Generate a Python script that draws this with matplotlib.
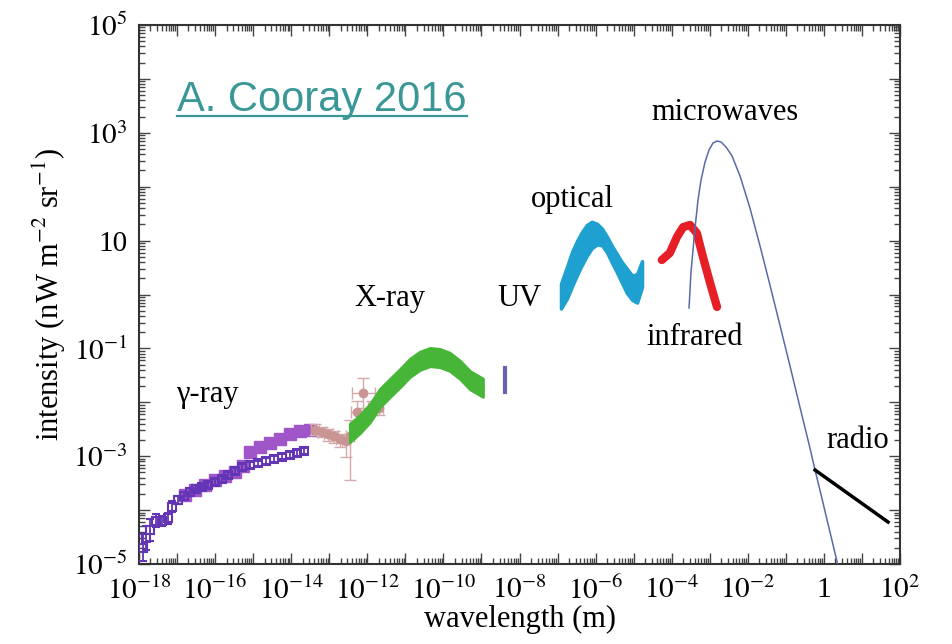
import numpy as np
import matplotlib
matplotlib.use('Agg')
import matplotlib.pyplot as plt
from matplotlib.ticker import FixedLocator, FuncFormatter, LogLocator, NullFormatter
from matplotlib.lines import Line2D

# all values are log10 (wavelength in m, intensity in nW m^-2 sr^-1)
gamma_open_x = [-17.90, -17.82, -17.71, -17.55, -17.40, -17.24, -17.13, -16.98, -16.82, -16.66,
                -16.50, -16.34, -16.19, -16.00, -15.82, -15.66, -15.48, -15.29, -15.08, -14.87,
                -14.66, -14.45, -14.24, -14.03, -13.85, -13.66]
gamma_open_y = [-4.70, -4.52, -4.37, -4.20, -4.20, -4.15, -3.94, -3.81, -3.74, -3.66,
                -3.61, -3.57, -3.53, -3.48, -3.42, -3.35, -3.27, -3.20, -3.16, -3.13,
                -3.09, -3.05, -3.01, -2.98, -2.94, -2.90]
gamma_open_err = [0.25, 0.22, 0.2, 0.12, 0.1, 0.1, 0.1, 0.08, 0.08, 0.07,
                  0.07, 0.06, 0.06, 0.06, 0.06, 0.06, 0.06, 0.06, 0.05, 0.05,
                  0.05, 0.05, 0.05, 0.05, 0.05, 0.05]

gamma_fill_x = [-16.79, -16.53, -16.27, -16.00, -15.74, -15.48, -15.27, -15.08, -14.82,
                -14.56, -14.29, -14.03, -13.77, -13.51]
gamma_fill_y = [-3.72, -3.63, -3.53, -3.44, -3.37, -3.29, -3.18, -2.92, -2.83,
                -2.76, -2.68, -2.59, -2.53, -2.51]

pink_x = [-13.37, -13.19, -13.03, -12.88, -12.72, -12.56, -12.45, -12.27, -12.11, -11.88, -11.69]
pink_y = [-2.51, -2.55, -2.59, -2.63, -2.68, -2.72, -2.63, -2.18, -1.83, -2.09, -2.11]
pink_err_lo = [0.1, 0.1, 0.12, 0.12, 0.15, 0.3, 0.82, 0.25, 0.28, 0.15, 0.12]
pink_err_hi = [0.1, 0.1, 0.1, 0.1, 0.1, 0.12, 0.30, 0.2, 0.28, 0.12, 0.1]
pink_xerr = [0.1, 0.1, 0.1, 0.1, 0.1, 0.1, 0.1, 0.15, 0.3, 0.1, 0.1]

xray_x = [-12.46, -12.19, -11.93, -11.67, -11.40, -11.14, -10.88, -10.62, -10.35, -10.09,
          -9.83, -9.56, -9.30, -8.96]
xray_y = [-2.57, -2.40, -2.20, -1.92, -1.73, -1.55, -1.36, -1.23, -1.16, -1.18,
          -1.25, -1.40, -1.59, -1.73]
xray_halfwidth = 0.17

uv_x = [-8.38, -8.38]
uv_y = [-1.81, -1.36]

opt_x = [-6.91, -6.75, -6.62, -6.49, -6.36, -6.23, -6.10, -5.96, -5.83, -5.70,
         -5.57, -5.44, -5.31, -5.18, -5.04, -4.91, -4.78]
opt_hi = [0.20, 0.52, 0.79, 0.99, 1.16, 1.29, 1.35, 1.31, 1.22, 1.07,
          0.90, 0.75, 0.60, 0.48, 0.35, 0.38, 0.62]
opt_lo = [-0.26, -0.07, 0.15, 0.36, 0.55, 0.72, 0.86, 0.93, 0.91, 0.78,
          0.59, 0.41, 0.22, 0.03, -0.10, -0.15, 0.14]

ir_x = [-4.26, -4.05, -3.86, -3.70, -3.52, -3.34, -3.18, -2.99, -2.81]
ir_y = [0.64, 0.77, 1.07, 1.25, 1.29, 1.14, 0.70, 0.21, -0.23]

cmb_x = [-3.545, -3.519, -3.493, -3.440, -3.388, -3.309, -3.230, -3.124, -3.019, -2.914,
         -2.809, -2.704, -2.573, -2.415, -2.205, -1.942, -1.679, -1.416, -1.154, -0.890,
         -0.628, -0.363, -0.234, -0.097, 0.167, 0.431]
cmb_y = [-0.250, 0.083, 0.417, 0.826, 1.234, 1.753, 2.124, 2.458, 2.681, 2.811,
         2.848, 2.829, 2.737, 2.570, 2.200, 1.600, 0.900, 0.170, -0.575, -1.330,
         -2.095, -2.860, -3.256, -3.650, -4.430, -5.210]

radio_x = [-0.234, 1.685]
radio_y = [-3.256, -4.221]

plt.rcParams['font.family'] = ['Liberation Serif', 'DejaVu Serif']
plt.rcParams['mathtext.fontset'] = 'stix'

fig = plt.figure(figsize=(9.52, 6.44), dpi=100)
ax = fig.add_axes([0.146, 0.1242, 0.7994, 0.837])
ax.set_xscale('log')
ax.set_yscale('log')
ax.set_xlim(1e-18, 1e2)
ax.set_ylim(1e-5, 1e5)


def p(v):
    return 10.0 ** np.asarray(v, dtype=float)


def log_err(ly, lo, hi):
    y = p(ly)
    return [y - p(np.asarray(ly) - np.asarray(lo)), p(np.asarray(ly) + np.asarray(hi)) - y]


# gamma rays
ax.errorbar(p(gamma_open_x), p(gamma_open_y), yerr=log_err(gamma_open_y, gamma_open_err, gamma_open_err),
            fmt='s', ms=5.5, mfc='none', mec='#6236b4', mew=1.5, ecolor='#6236b4', elinewidth=1.3,
            capsize=3, zorder=3)
ax.plot(p(gamma_fill_x), p(gamma_fill_y), 's', ms=9, color='#a056c8', zorder=2)

# pink points
ax.errorbar(p(pink_x), p(pink_y), yerr=log_err(pink_y, pink_err_lo, pink_err_hi),
            xerr=log_err(pink_x, pink_xerr, pink_xerr), fmt='o', ms=6, color='#c99494',
            ecolor='#d4aaaa', elinewidth=1.0, capsize=4, zorder=3)

# x rays
xl = np.asarray(xray_y)
ax.fill_between(p(xray_x), p(xl - xray_halfwidth), p(xl + xray_halfwidth), color='#47b537',
                lw=2, edgecolor='#47b537', zorder=4)

# uv
ax.plot(p(uv_x), p(uv_y), color='#6a62b4', lw=3, zorder=4)

# optical
ax.fill_between(p(opt_x), p(opt_lo), p(opt_hi), color='#1ea0d0', edgecolor='#1ea0d0', lw=2.5, zorder=4)

# infrared
ax.plot(p(ir_x), p(ir_y), color='#e61e26', lw=6, solid_capstyle='round', zorder=4)

# microwaves
ax.plot(p(cmb_x), p(cmb_y), color='#5a6aa8', lw=1.1, zorder=5)

# radio
ax.plot(p(radio_x), p(radio_y), color='black', lw=2.5, zorder=5)

# band labels
fs = 22
ax.text(p(-16.2), p(-1.85), 'γ-ray', fontsize=fs, ha='center', va='center')
ax.text(p(-11.4), p(-0.08), 'X-ray', fontsize=fs, ha='center', va='center')
ax.text(p(-8.0), p(-0.08), 'UV', fontsize=fs, ha='center', va='center')
ax.text(p(-6.6), p(1.77), 'optical', fontsize=fs, ha='center', va='center')
ax.text(p(-2.6), p(3.38), 'microwaves', fontsize=fs, ha='center', va='center')
ax.text(p(-3.40), p(-0.79), 'infrared', fontsize=fs, ha='center', va='center')
ax.text(p(0.88), p(-2.70), 'radio', fontsize=fs, ha='center', va='center')

# ticks
x_major = [10.0 ** k for k in range(-18, 3)]
y_major = [10.0 ** k for k in range(-5, 6)]


def x_label(v, pos):
    k = int(round(np.log10(v)))
    if k % 2:
        return ''
    if k == 0:
        return '1'
    return r'$10^{%d}$' % k


def y_label(v, pos):
    k = int(round(np.log10(v)))
    if k % 2 == 0:
        return ''
    if k == 1:
        return '10'
    return r'$10^{%d}$' % k


ax.xaxis.set_major_locator(FixedLocator(x_major))
ax.yaxis.set_major_locator(FixedLocator(y_major))
ax.xaxis.set_major_formatter(FuncFormatter(x_label))
ax.yaxis.set_major_formatter(FuncFormatter(y_label))
ax.xaxis.set_minor_locator(LogLocator(base=10, subs=np.arange(2, 10), numticks=200))
ax.yaxis.set_minor_locator(LogLocator(base=10, subs=np.arange(2, 10), numticks=200))
ax.xaxis.set_minor_formatter(NullFormatter())
ax.yaxis.set_minor_formatter(NullFormatter())
ax.tick_params(which='both', direction='in', top=True, right=True, width=1.0, color='#444444')
ax.tick_params(axis='x', which='major', length=8, labelsize=21, pad=9)
ax.tick_params(axis='y', which='major', length=8, labelsize=21, pad=8)
ax.tick_params(which='minor', length=4)
for s in ax.spines.values():
    s.set_linewidth(1.5)
    s.set_color('#333333')

ax.set_xlabel('wavelength (m)', fontsize=22, labelpad=0)
ax.set_ylabel(r'intensity (nW m$^{-2}$ sr$^{-1}$)', fontsize=22, labelpad=4)

# source caption, underlined
cap = fig.text(177 / 952, 1 - 111 / 644, 'A. Cooray 2016', fontsize=30, color='#3a9797',
               family=['Liberation Sans', 'DejaVu Sans'], ha='left', va='baseline')
fig.canvas.draw()
bb = cap.get_window_extent(fig.canvas.get_renderer())
uy = (644 - 116) / 644
fig.add_artist(Line2D([bb.x0 / 952, bb.x1 / 952], [uy, uy], color='#3a9797', lw=1.6))

fig.savefig('out.png', dpi=100)
